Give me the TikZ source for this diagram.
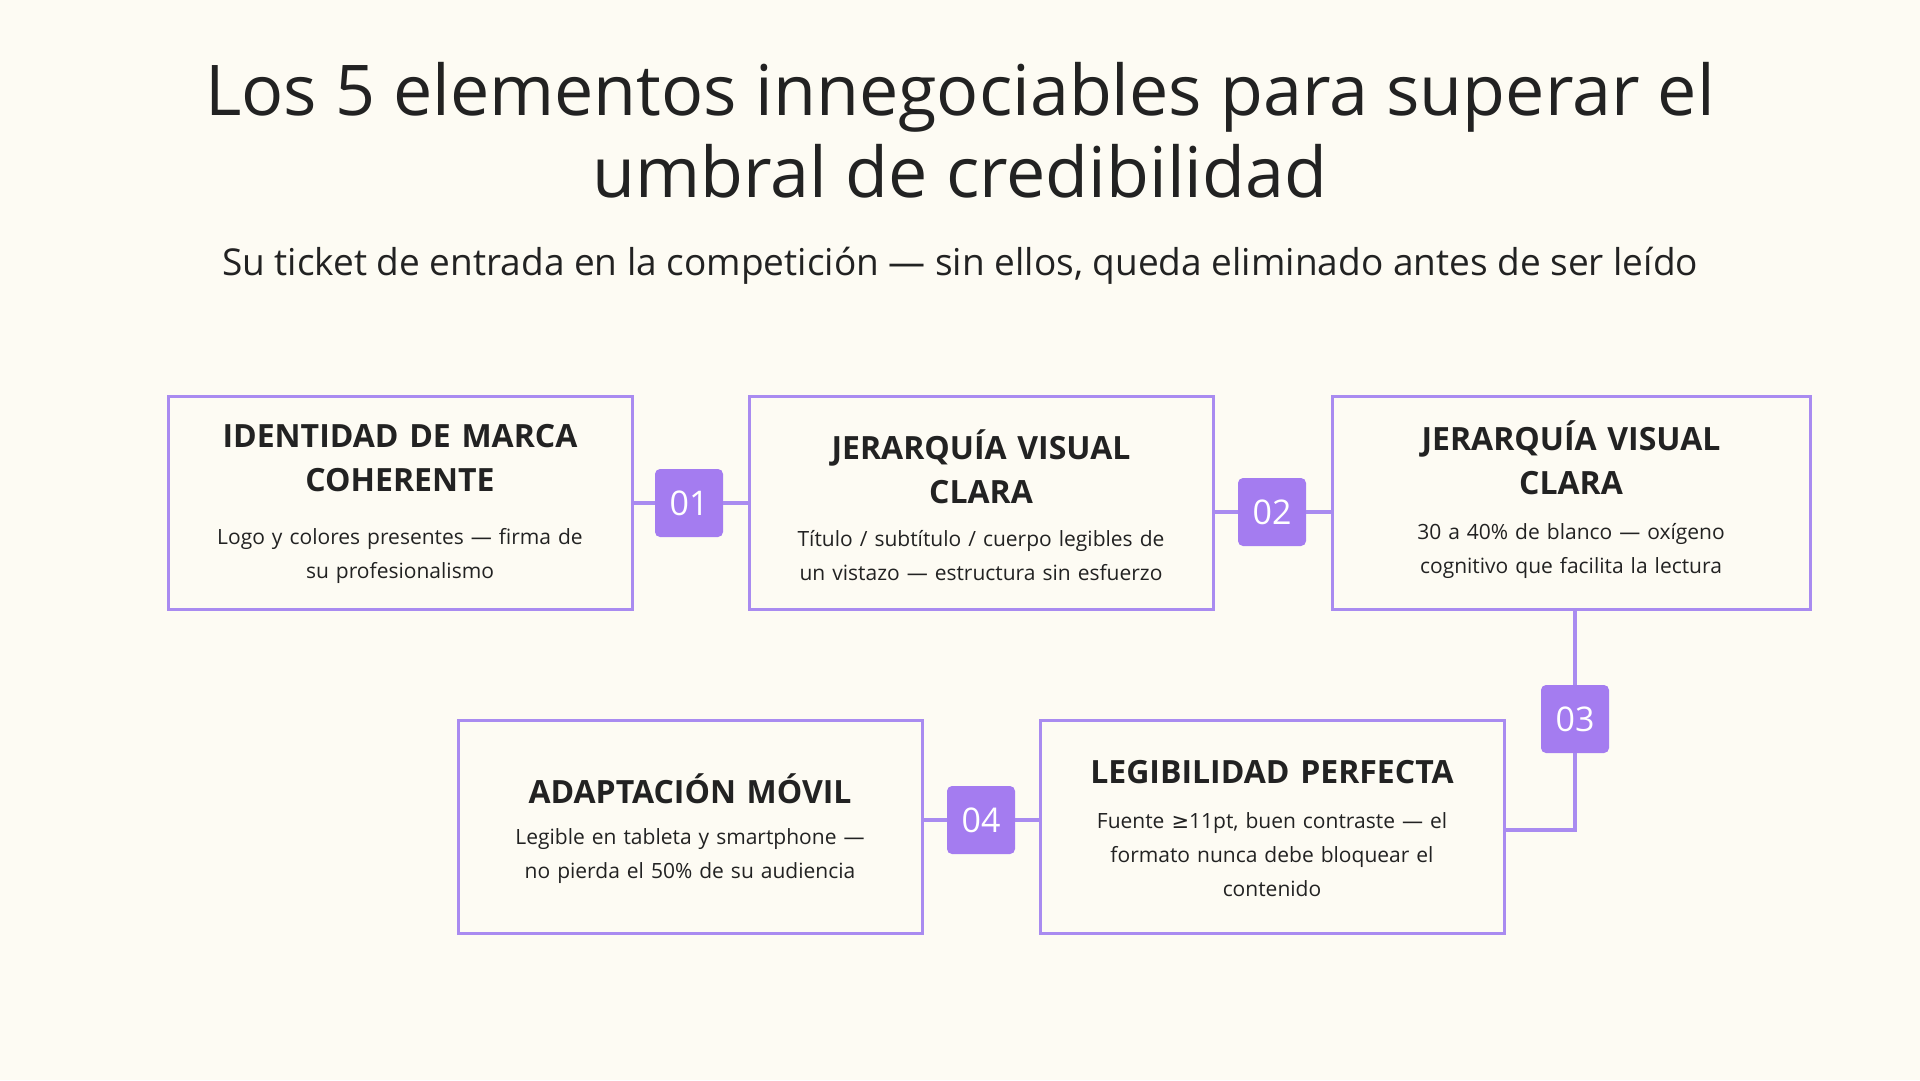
\documentclass[tikz,border=0pt]{standalone}
\usepackage{fontspec}
\setmainfont{Open Sans}
\newfontfamily\symfont{DejaVu Sans}
\usetikzlibrary{calc}
\definecolor{bg}{HTML}{FDFBF3}
\definecolor{lila}{HTML}{A98BF0}
\definecolor{badgec}{HTML}{A47CF0}
\definecolor{ink}{HTML}{222222}
\tikzset{
 card/.style={draw=lila, line width=3pt, minimum width=464pt, minimum height=213pt, inner sep=0pt},
 badge/.style={fill=badgec, rounded corners=5pt, minimum size=68pt, text=white, font=\fontsize{34}{34}\selectfont},
 head/.style={text=ink, align=center, font=\fontsize{32}{44}\selectfont\bfseries, text width=440pt},
 body/.style={text=ink, align=center, font=\fontsize{21}{34}\selectfont, text width=420pt},
 link/.style={draw=lila, line width=3.5pt}
}
\begin{document}
\begin{tikzpicture}[x=1pt,y=-1pt]
\fill[bg] (0,0) rectangle (1920,1080);
\useasboundingbox (0,0) rectangle (1920,1080);
\node[text=ink, align=center, font=\fontsize{70}{82}\selectfont] (title) at (960,130)
 {Los 5 elementos innegociables para superar el\\umbral de credibilidad};
\node[text=ink, font=\fontsize{37}{40}\selectfont] (sub) at (960,266)
 {Su ticket de entrada en la competición — sin ellos, queda eliminado antes de ser leído};
% cards
\node[card] (c1) at (400,503) {};
\node[card] (c2) at (981,503) {};
\node[card, minimum width=478pt] (c3) at (1571,503) {};
\node[card] (c5) at (1272,827) {};
\node[card] (c4) at (690,827) {};
% texts
\node[head] (h1) at (400,458) {IDENTIDAD DE MARCA\\COHERENTE};
\node[body] (b1) at (400,556) {Logo y colores presentes — firma de\\su profesionalismo};
\node[head] (h2) at (981,467) {JERARQUÍA VISUAL\\CLARA};
\node[body] (b2) at (981,556) {Título / subtítulo / cuerpo legibles de\\un vistazo — estructura sin esfuerzo};
\node[head] (h3) at (1571,458) {JERARQUÍA VISUAL\\CLARA};
\node[body] (b3) at (1571,551) {30 a 40\% de blanco — oxígeno\\cognitivo que facilita la lectura};
\node[head] (h5) at (1272,772) {LEGIBILIDAD PERFECTA};
\node[body] (b5) at (1272,855) {Fuente {\symfont ≥}11pt, buen contraste — el\\formato nunca debe bloquear el\\contenido};
\node[head] (h4) at (690,789) {ADAPTACIÓN MÓVIL};
\node[body] (b4) at (690,856) {Legible en tableta y smartphone —\\no pierda el 50\% de su audiencia};
% badges
\node[badge] (n1) at (689,503) {01};
\node[badge] (n2) at (1272,512) {02};
\node[badge] (n3) at (1575,719) {03};
\node[badge] (n4) at (981,820) {04};
% connectors
\coordinate (bend) at (1575,830);
\draw[link] (c1.east |- n1) -- (n1.west);
\draw[link] (n1.east) -- (c2.west |- n1);
\draw[link] (c2.east |- n2) -- (n2.west);
\draw[link] (n2.east) -- (c3.west |- n2);
\draw[link] (c3.south -| n3) -- (n3.north);
\draw[link] (n3.south) -- (bend) -- (c5.east |- bend);
\draw[link] (c5.west |- n4) -- (n4.east);
\draw[link] (n4.west) -- (c4.east |- n4);
\end{tikzpicture}
\end{document}
